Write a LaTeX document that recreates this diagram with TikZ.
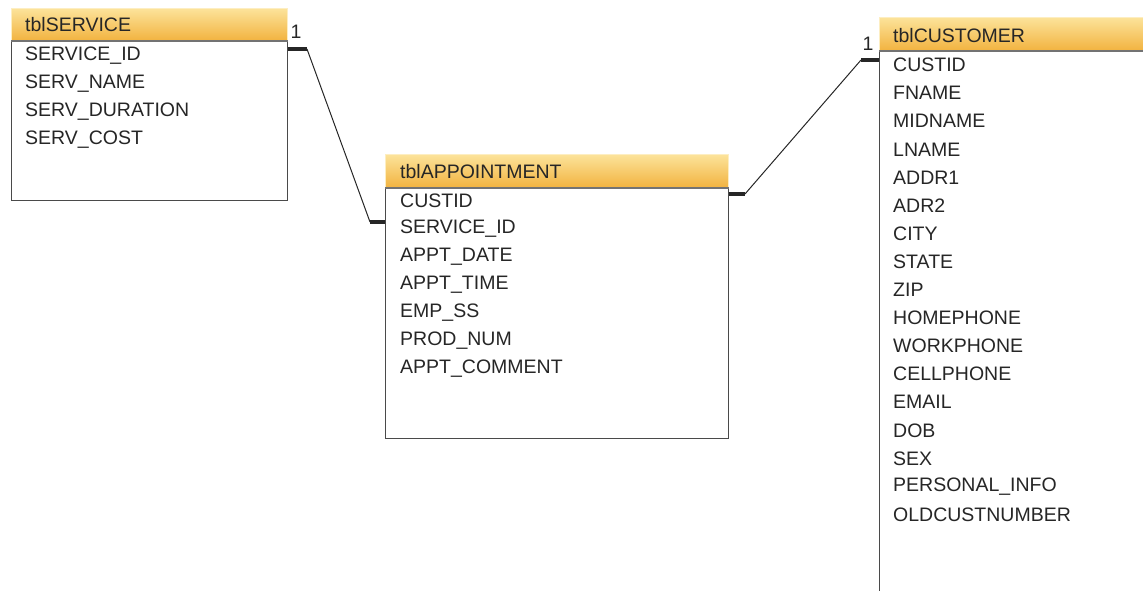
\documentclass[tikz,border=0pt]{standalone}
\usepackage{fontspec}
\setmainfont{Liberation Sans}
\definecolor{hdtop}{HTML}{FCE39A}
\definecolor{hdbot}{HTML}{F2B340}
\definecolor{boxline}{HTML}{4A4A4A}
\newcommand{\fsz}{\fontsize{19.5}{23}\selectfont}
\tikzset{
  tbody/.style={draw=boxline, line width=1.1pt, fill=white, inner sep=0pt, anchor=north west},
  thead/.style={draw=hdtop!60!white, line width=1pt, top color=hdtop, bottom color=hdbot, inner sep=0pt, anchor=north west},
  hline/.style={draw=black!55, line width=1.3pt},
  field/.style={anchor=west, inner sep=0pt, font=\fsz, text=black!85},
  card/.style={anchor=center, inner sep=0pt, font=\fsz, text=black!85},
  rel/.style={line width=1pt, black!85},
  relend/.style={line width=3.5pt, black!85}
}
\begin{document}
\begin{tikzpicture}[x=1pt,y=-1pt]
\useasboundingbox (0,0) rectangle (1143,591);
\clip (0,0) rectangle (1143,591);

% ---- tblSERVICE ----
\node[tbody, minimum width=276pt, minimum height=192pt] (svc) at (11,8) {};
\node[thead, minimum width=276pt, minimum height=32pt] (svch) at (11,8) {};
\draw[hline] (svch.south west) -- (svch.south east);
\node[field] (svct) at (25,25) {tblSERVICE};
\node[field] (s1) at (25,56) {SERVICE\_ID};
\node[field] (s2) at (25,84) {SERV\_NAME};
\node[field] (s3) at (25,112) {SERV\_DURATION};
\node[field] (s4) at (25,140) {SERV\_COST};

% ---- tblAPPOINTMENT ----
\node[tbody, minimum width=343pt, minimum height=284pt] (app) at (385,154) {};
\node[thead, minimum width=343pt, minimum height=33pt] (apph) at (385,154) {};
\draw[hline] (apph.south west) -- (apph.south east);
\node[field] (appt) at (400,172) {tblAPPOINTMENT};
\node[field] (a1) at (400,201) {CUSTID};
\node[field] (a2) at (400,229) {SERVICE\_ID};
\node[field] (a3) at (400,257) {APPT\_DATE};
\node[field] (a4) at (400,285) {APPT\_TIME};
\node[field] (a5) at (400,313) {EMP\_SS};
\node[field] (a6) at (400,341) {PROD\_NUM};
\node[field] (a7) at (400,369) {APPT\_COMMENT};

% ---- tblCUSTOMER ----
\node[tbody, minimum width=300pt, minimum height=620pt] (cus) at (879,17) {};
\node[thead, minimum width=300pt, minimum height=33pt] (cush) at (879,17) {};
\draw[hline] (cush.south west) -- (cush.south east);
\node[field] (cust) at (893,36) {tblCUSTOMER};
\foreach \t [count=\i] in {CUSTID,FNAME,MIDNAME,LNAME,ADDR1,ADR2,CITY,STATE,ZIP,HOMEPHONE,WORKPHONE,CELLPHONE,EMAIL,DOB,SEX,PERSONAL\_INFO,OLDCUSTNUMBER}
  \node[field] (c\i) at (893,{65+28.1*(\i-1)}) {\t};

% ---- relationships ----
\coordinate (r1a) at (svc.east |- 0,49);
\coordinate (r1b) at (307,49);
\coordinate (r1c) at (370,222);
\coordinate (r1d) at (app.west |- 0,222);
\draw[relend] (r1a) -- (r1b);
\draw[rel] (r1b) -- (r1c);
\draw[relend] (r1c) -- (r1d);
\node[card] (one1) at (296,32) {1};

\coordinate (r2a) at (app.east |- 0,194);
\coordinate (r2b) at (745,194);
\coordinate (r2c) at (861,60);
\coordinate (r2d) at (cus.west |- 0,60);
\draw[relend] (r2a) -- (r2b);
\draw[rel] (r2b) -- (r2c);
\draw[relend] (r2c) -- (r2d);
\node[card] (one2) at (868,44) {1};
\end{tikzpicture}
\end{document}
